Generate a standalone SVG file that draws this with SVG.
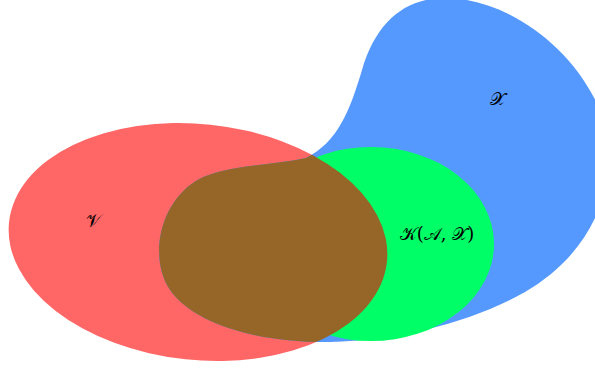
<svg xmlns="http://www.w3.org/2000/svg" width="595" height="369" viewBox="0 0 595 369">
<style>
.lbl{font-family:"DejaVu Serif","Liberation Serif",serif;font-size:18px;fill:#000;text-anchor:middle}
</style>
<defs>
<path id="blobX" d="M 306 158 C 338 142 350 110 362 70 C 376 22 405 -2 445 -2 C 505 -2 572 45 600 110 C 622 175 600 248 525 292 C 472 322 400 340 330 342 C 260 343 195 325 170 290 C 150 260 158 210 190 185 C 215 165 262 167 306 158 Z"/>
<ellipse id="ellV" cx="198" cy="242" rx="190" ry="118" transform="rotate(6 198 242)"/>
<clipPath id="clipV"><use href="#ellV"/></clipPath>
</defs>
<g id="V"><use href="#ellV" fill="#ff6666"/></g>
<g id="X"><use href="#blobX" fill="#5599ff"/></g>
<g id="K"><ellipse cx="371" cy="244" rx="123" ry="97" fill="#00ff66"/></g>
<g id="VX"><use href="#blobX" fill="#966528" clip-path="url(#clipV)"/></g>
<g id="labels">
<text class="lbl" x="497" y="105">𝒳</text>
<text class="lbl" x="93" y="227">𝒱</text>
<text class="lbl" x="437" y="240">𝒦(𝒜, 𝒳)</text>
</g>
</svg>
